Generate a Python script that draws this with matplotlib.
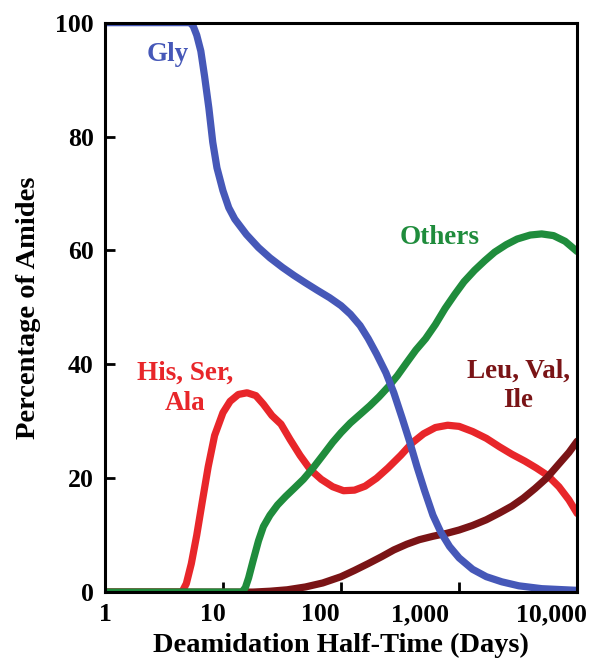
import numpy as np
import matplotlib
matplotlib.use("Agg")
import matplotlib.pyplot as plt
from matplotlib.transforms import ScaledTranslation

plt.rcParams['font.family'] = ['Liberation Serif', 'DejaVu Serif']
plt.rcParams['font.weight'] = 'bold'
plt.rcParams['axes.labelweight'] = 'bold'

# Data (days, percent)
gly_days = [1, 5.25, 5.6, 6.0, 6.5, 7.0, 7.6, 8.2, 8.9, 10, 11.2, 12.6, 15.8, 20, 25, 32,
            40, 50, 63, 80, 100, 120, 145, 170, 200, 240, 280, 330, 380, 440, 510, 600,
            700, 830, 1000, 1300, 1700, 2300, 3200, 5000, 10000]
gly_pct = [100, 100, 99.4, 97.8, 95, 90.5, 85, 79, 74.5, 70.5, 67.5, 65.5, 62.8, 60.5,
           58.7, 57, 55.6, 54.3, 53, 51.7, 50.3, 48.8, 46.8, 44.5, 41.8, 38.5, 35, 30.5,
           26.5, 22, 17.8, 13.5, 10.5, 8, 6, 4, 2.7, 1.8, 1.1, 0.6, 0.3]

hsa_days = [1, 4.5, 4.9, 5.4, 6, 6.7, 7.5, 8.5, 10, 11.5, 13.5, 16, 19, 22, 26, 31, 37,
            45, 55, 68, 85, 105, 130, 160, 200, 250, 320, 400, 500, 630, 800, 1000, 1300,
            1700, 2200, 2800, 3600, 4500, 5600, 7000, 8500, 10000]
hsa_pct = [0, 0, 1.5, 5, 10, 16, 22, 27.5, 31.5, 33.5, 34.7, 35, 34.5, 33, 31, 29.5, 26.8,
           24, 21.5, 19.8, 18.5, 17.8, 17.9, 18.6, 20, 21.8, 24, 26.2, 27.8, 28.9, 29.3,
           29.1, 28.2, 27, 25.5, 24.2, 23, 21.8, 20.5, 18.5, 16.2, 13.8]

oth_days = [1, 14.5, 15.5, 16.5, 18, 20, 22, 25, 29, 34, 40, 48, 58, 70, 85, 100, 120,
            145, 175, 210, 250, 300, 360, 430, 520, 630, 760, 920, 1100, 1350, 1650, 2000,
            2500, 3100, 4000, 5000, 6300, 7900, 10000]
oth_pct = [0, 0, 0.8, 2.5, 5.5, 9, 11.5, 13.5, 15.3, 16.8, 18.2, 19.8, 21.8, 24, 26.3, 28,
           29.7, 31.2, 32.7, 34.3, 36, 38, 40.3, 42.5, 44.5, 47, 49.8, 52.3, 54.5, 56.5,
           58.2, 59.7, 61, 62, 62.7, 62.9, 62.6, 61.6, 59.8]

lvi_days = [1, 18, 25, 35, 50, 70, 100, 130, 170, 220, 280, 360, 460, 600, 780, 1000,
            1300, 1700, 2200, 2800, 3500, 4400, 5500, 7000, 8500, 10000]
lvi_pct = [0, 0, 0.15, 0.4, 0.9, 1.6, 2.7, 3.8, 5, 6.2, 7.4, 8.4, 9.2, 9.8, 10.3, 10.9,
           11.7, 12.7, 13.9, 15.1, 16.5, 18.2, 20, 22.5, 24.5, 26.5]

x_ticks = [1, 10, 100, 1000, 10000]
x_labels = ['1', '10', '100', '1,000', '10,000']
y_ticks = [0, 20, 40, 60, 80, 100]

c_gly = '#4658b8'
c_hsa = '#e8262a'
c_oth = '#1f8c3c'
c_lvi = '#7a1416'

fig = plt.figure(figsize=(5.89, 6.66), dpi=100)
ax = fig.add_axes([0.178, 0.111, 0.802, 0.855])

lw = 5.2
style = dict(lw=lw, solid_capstyle='round', solid_joinstyle='round')
ax.plot(hsa_days, hsa_pct, color=c_hsa, **style)
ax.plot(lvi_days, lvi_pct, color=c_lvi, **style)
ax.plot(oth_days, oth_pct, color=c_oth, **style)
ax.plot(gly_days, gly_pct, color=c_gly, **style)

ax.set_xscale('log')
ax.set_xlim(1, 10000)
ax.set_ylim(0, 100)
ax.set_xticks(x_ticks, x_labels)
ax.minorticks_off()
ax.set_yticks(y_ticks)
ax.tick_params(direction='in', length=7, width=2, labelsize=18.5, pad=8)
ax.tick_params(axis='y', pad=8)

# the original's x labels sit left of their ticks
shifts = [1, -10, -21, -39, -26]
for lbl, dx in zip(ax.get_xticklabels(), shifts):
    lbl.set_transform(lbl.get_transform() + ScaledTranslation(dx / 100, 0, fig.dpi_scale_trans))

for s in ax.spines.values():
    s.set_linewidth(2.2)

ax.set_xlabel('Deamidation Half-Time (Days)', fontsize=20.5, labelpad=5)
ax.set_ylabel('Percentage of Amides', fontsize=20.5, labelpad=10)

tsize = 19.5
ax.text(3.4, 94.4, 'Gly', color=c_gly, fontsize=tsize, ha='center', va='center')
ax.text(680, 62.2, 'Others', color=c_oth, fontsize=tsize, ha='center', va='center')
ax.text(4.8, 35.8, 'His, Ser,\nAla', color=c_hsa, fontsize=tsize, ha='center', va='center',
        linespacing=1.3)
ax.text(3160, 36.2, 'Leu, Val,\nIle', color=c_lvi, fontsize=tsize, ha='center', va='center',
        linespacing=1.2)

fig.savefig('out.png', dpi=100)
